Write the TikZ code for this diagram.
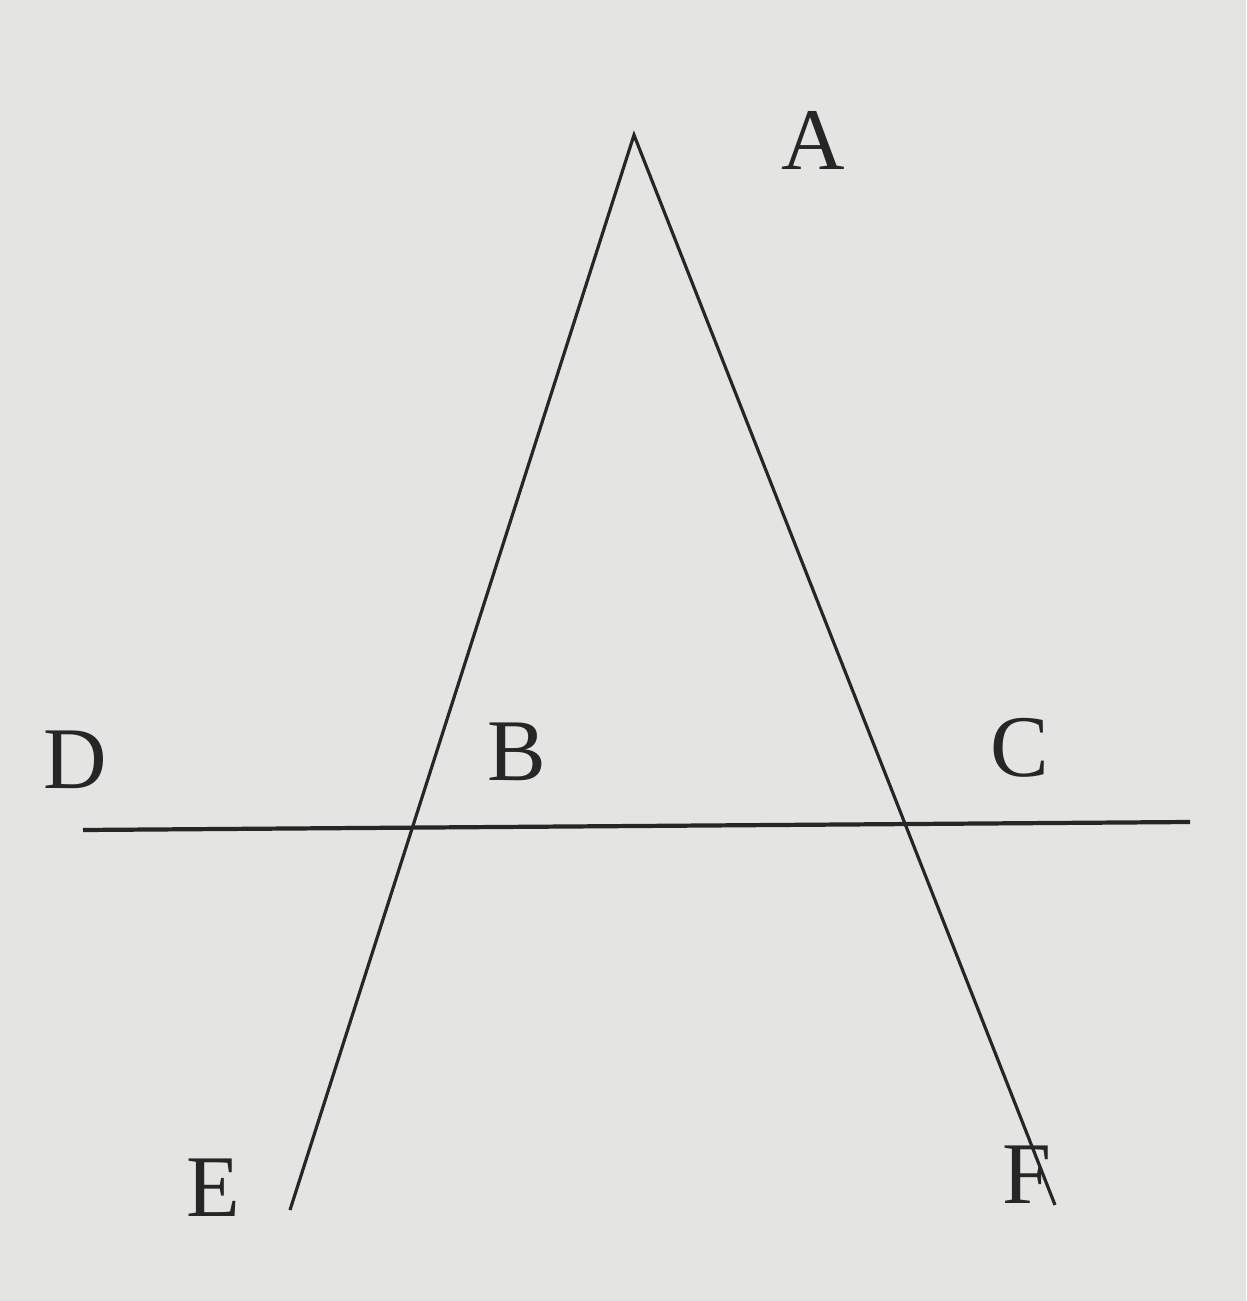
\documentclass[tikz,border=0pt]{standalone}
\usepackage{fontspec}
\setmainfont{Liberation Serif}
\begin{document}
\begin{tikzpicture}[x=0.01cm,y=-0.01cm,
  geoline/.style={line width=0.9pt,color=black!85},
  lbl/.style={font=\fontsize{25}{28}\selectfont,text=black!85,inner sep=0pt}]
\definecolor{paper}{RGB}{228,229,226}
\fill[paper] (0,0) rectangle (1246,1301);
\useasboundingbox (0,0) rectangle (1246,1301);
\coordinate (A) at (634,135);
\coordinate (E) at (290,1210);
\coordinate (F) at (1055,1205);
\coordinate (D) at (83,830);
\coordinate (C) at (1190,822);
\draw[geoline,line join=miter] (E) -- (A) -- (F);
\draw[geoline,line width=1.2pt] (D) -- (C);
\node[lbl] (lA) at (813,140) {A};
\node[lbl] (lD) at (75,760) {D};
\node[lbl] (lB) at (517,752) {B};
\node[lbl] (lC) at (1020,748) {C};
\node[lbl] (lE) at (213,1188) {E};
\node[lbl] (lF) at (1027,1175) {F};
\end{tikzpicture}
\end{document}
